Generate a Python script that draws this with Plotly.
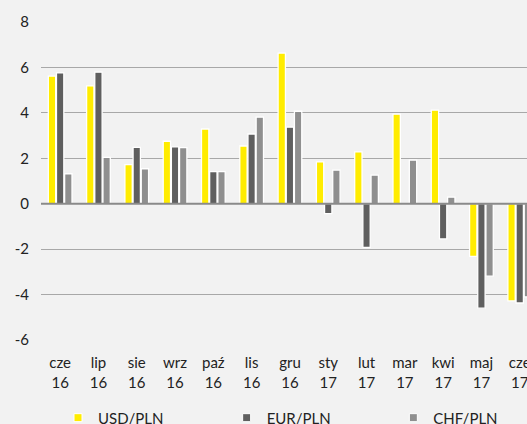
import plotly.graph_objects as go

categories = ["cze<br>16", "lip<br>16", "sie<br>16", "wrz<br>16", "paź<br>16", "lis<br>16",
              "gru<br>16", "sty<br>17", "lut<br>17", "mar<br>17", "kwi<br>17", "maj<br>17", "cze<br>17"]
usd_pln = [5.62, 5.19, 1.72, 2.75, 3.29, 2.54, 6.63, 1.84, 2.28, 3.94, 4.12, -2.32, -4.28]
eur_pln = [5.76, 5.79, 2.48, 2.50, 1.41, 3.07, 3.37, -0.44, -1.92, 0.0, -1.55, -4.60, -4.37]
chf_pln = [1.32, 2.04, 1.54, 2.47, 1.41, 3.81, 4.07, 1.48, 1.26, 1.92, 0.29, -3.19, -4.10]
y_ticks = [-6, -4, -2, 0, 2, 4, 6, 8]
y_tick_labels = ["-6", "-4", "-2", "0", "2", "4", "6", "8"]

series = [("USD/PLN", usd_pln, "#ffec00", "legend"),
          ("EUR/PLN", eur_pln, "#5f5f5f", "legend2"),
          ("CHF/PLN", chf_pln, "#8f8f8f", "legend3")]

fig = go.Figure()
for name, vals, col, leg in series:
    fig.add_trace(go.Bar(x=categories, y=vals, name=name, showlegend=False,
                         marker=dict(color=col, line=dict(color="white", width=1.3))))
for name, vals, col, leg in series:
    fig.add_trace(go.Scatter(x=[categories[0]], y=[None], mode="markers", name=name,
                             legend=leg, hoverinfo="skip",
                             marker=dict(symbol="square", size=8, color=col,
                                         line=dict(color="white", width=1))))

fig.add_hline(y=0, line=dict(color="#8a8a8a", width=2), layer="above")

leg_common = dict(orientation="h", y=-0.245, yanchor="middle", xanchor="left",
                  bgcolor="rgba(0,0,0,0)", font=dict(size=15, color="#222222"),
                  itemclick=False, itemdoubleclick=False)
fig.update_layout(
    width=527, height=424,
    margin=dict(l=41, r=0, t=22, b=84, autoexpand=False),
    paper_bgcolor="#f2f2f2", plot_bgcolor="#f2f2f2",
    barmode="group", bargap=0.36, bargroupgap=0.1,
    font=dict(family="Lato, 'Open Sans', sans-serif", size=15, color="#222222"),
    legend=dict(x=0.035, **leg_common),
    legend2=dict(x=0.382, **leg_common),
    legend3=dict(x=0.725, **leg_common),
)
fig.update_xaxes(range=[-0.5, 12.19], showgrid=False, zeroline=False, showline=False,
                 ticks="", tickfont=dict(size=15), ticklabelstandoff=12, automargin=False)
fig.update_yaxes(range=[-6, 8], tickvals=y_ticks, ticktext=y_tick_labels,
                 showgrid=True, gridcolor="#a8a8a8",
                 gridwidth=1, zeroline=False, showline=False, ticks="",
                 tickfont=dict(size=15), ticklabelstandoff=11, automargin=False)

fig.write_html("out.html", config={"displayModeBar": False},
               post_script="document.body.style.margin='0';"
                           "document.body.style.background='#f2f2f2';"
                           "document.body.style.overflow='hidden';")
